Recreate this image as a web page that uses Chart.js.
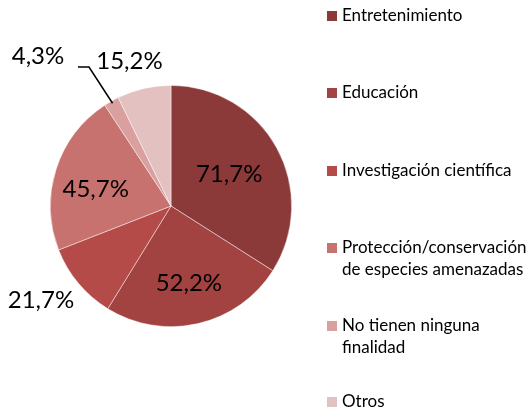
<!DOCTYPE html>
<html>
<head>
<meta charset="utf-8">
<script src="https://cdn.jsdelivr.net/npm/chart.js@4"></script>
<style>
  html, body { margin: 0; padding: 0; background: #fff; }
  #wrap { width: 531px; height: 414px; position: relative; }
</style>
</head>
<body>
<div id="wrap"><canvas id="pie"></canvas></div>
<script>
var categories = [
  'Entretenimiento',
  'Educación',
  'Investigación científica',
  ['Protección/conservación', 'de especies amenazadas'],
  ['No tienen ninguna', 'finalidad'],
  'Otros'
];
var percentages = [71.7, 52.2, 21.7, 45.7, 4.3, 15.2];
var sliceColors = ['#8B3939', '#A24241', '#B54B49', '#C87270', '#D9A09F', '#E3C1C1'];

// where each label sits, as a fraction of the radius along the slice's middle
var labelRadius = [0.55, 0.66, 1.33, 0.64, 1.3, 1.25];
var labelShift = [0, 0, 4, -5, 0, -3]; // degrees

const FONT = 'Lato, "Open Sans", sans-serif';

function fmt(v) {
  return v.toFixed(1).replace('.', ',') + '%';
}

const pieLabels = {
  id: 'pieLabels',
  afterDatasetsDraw(chart) {
    const ctx = chart.ctx;
    const meta = chart.getDatasetMeta(0);
    ctx.save();
    ctx.font = '24px ' + FONT;
    ctx.fillStyle = '#000';
    ctx.textAlign = 'center';
    ctx.textBaseline = 'middle';
    meta.data.forEach(function (arc, i) {
      const p = arc.getProps(['x', 'y', 'startAngle', 'endAngle', 'outerRadius']);
      const mid = (p.startAngle + p.endAngle) / 2 + labelShift[i] * Math.PI / 180;
      const r = p.outerRadius * labelRadius[i];
      let x = p.x + Math.cos(mid) * r;
      let y = p.y + Math.sin(mid) * r;
      if (i === 4) {
        // tiny slice: label pulled out to the left with a leader line
        const ex = p.x + Math.cos(mid) * p.outerRadius * 0.98;
        const ey = p.y + Math.sin(mid) * p.outerRadius * 0.98;
        x = p.x - 133;
        y = p.y - 150;
        ctx.strokeStyle = '#000';
        ctx.lineWidth = 1.5;
        ctx.beginPath();
        ctx.moveTo(ex, ey);
        ctx.lineTo(x + 51, y + 11);
        ctx.lineTo(x + 40, y + 11);
        ctx.stroke();
      }
      ctx.fillText(fmt(percentages[i]), x, y);
    });
    ctx.restore();
  }
};

const sideLegend = {
  id: 'sideLegend',
  afterDraw(chart) {
    const ctx = chart.ctx;
    const rows = [16, 93, 171, 248, 326, 402];
    ctx.save();
    ctx.font = '17px ' + FONT;
    ctx.textBaseline = 'middle';
    ctx.textAlign = 'left';
    categories.forEach(function (c, i) {
      ctx.fillStyle = sliceColors[i];
      ctx.fillRect(327, rows[i] - 5, 10, 10);
      ctx.fillStyle = '#000';
      const lines = Array.isArray(c) ? c : [c];
      lines.forEach(function (t, k) {
        ctx.fillText(t, 342, rows[i] + k * 22);
      });
    });
    ctx.restore();
  }
};

new Chart(document.getElementById('pie'), {
  type: 'pie',
  data: {
    labels: categories,
    datasets: [{
      data: percentages,
      backgroundColor: sliceColors,
      borderColor: 'rgba(255,255,255,0.6)',
      borderWidth: 0.75
    }]
  },
  options: {
    responsive: true,
    maintainAspectRatio: false,
    animation: false,
    layout: {
      padding: { left: 50, right: 239, top: 85, bottom: 87 }
    },
    plugins: {
      legend: { display: false },
      tooltip: { enabled: false }
    }
  },
  plugins: [pieLabels, sideLegend]
});
</script>
</body>
</html>
